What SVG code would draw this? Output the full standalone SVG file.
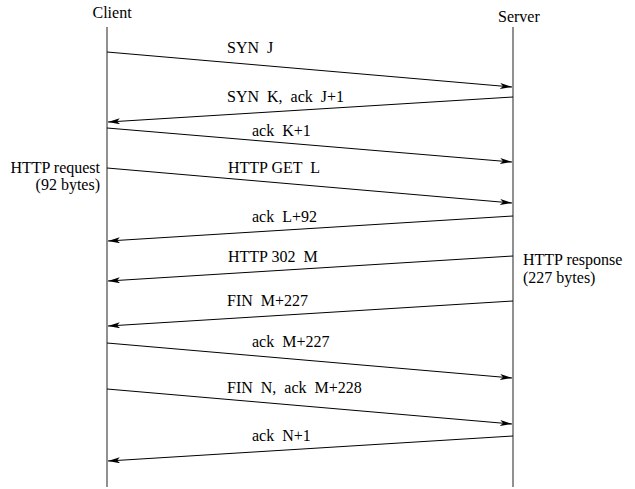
<svg xmlns="http://www.w3.org/2000/svg" width="635" height="489" viewBox="0 0 635 489">
<defs>
<style>
text{font-family:"Liberation Serif","Times New Roman",Times,serif;font-size:16px;fill:#000;white-space:pre}
.life{stroke:#555;stroke-width:1.3;fill:none}
.msg{stroke:#000;stroke-width:1;fill:none;marker-end:url(#ah)}
</style>
<marker id="ah" markerWidth="13" markerHeight="6" refX="12" refY="3" orient="auto" markerUnits="userSpaceOnUse">
<path d="M0,0 L12,3 L0,6 L3,3 z" fill="#000"/>
</marker>
</defs>
<rect width="635" height="489" fill="#fff"/>
<g id="client" font-family="Liberation Serif, serif">
<text x="92.5" y="17.5">Client</text>
<line class="life" x1="107" y1="27" x2="107" y2="487"/>
<text x="100" y="173" text-anchor="end">HTTP request</text>
<text x="100" y="190" text-anchor="end">(92 bytes)</text>
</g>
<g id="server" font-family="Liberation Serif, serif">
<text x="498" y="21.5">Server</text>
<line class="life" x1="513" y1="27" x2="513" y2="487"/>
<text x="523" y="265">HTTP response</text>
<text x="523" y="283">(227 bytes)</text>
</g>
<g id="connectors">
<line class="msg" x1="107" y1="52" x2="512" y2="87"/>
<line class="msg" x1="513" y1="97" x2="108" y2="122"/>
<line class="msg" x1="107" y1="128" x2="512" y2="162"/>
<line class="msg" x1="107" y1="168" x2="512" y2="203"/>
<line class="msg" x1="513" y1="216" x2="108" y2="241"/>
<line class="msg" x1="513" y1="256" x2="108" y2="281"/>
<line class="msg" x1="513" y1="301" x2="108" y2="326"/>
<line class="msg" x1="107" y1="343" x2="512" y2="378"/>
<line class="msg" x1="107" y1="389" x2="512" y2="424"/>
<line class="msg" x1="513" y1="436" x2="108" y2="461"/>
</g>
<g id="labels" font-family="Liberation Serif, serif">
<text x="227" y="53">SYN  J</text>
<text x="227" y="101.5">SYN  K,  ack  J+1</text>
<text x="252" y="135.5">ack  K+1</text>
<text x="228" y="173">HTTP GET  L</text>
<text x="252" y="222">ack  L+92</text>
<text x="228" y="261.5">HTTP 302  M</text>
<text x="227" y="306">FIN  M+227</text>
<text x="252" y="347">ack  M+227</text>
<text x="227" y="392.5">FIN  N,  ack  M+228</text>
<text x="252" y="440.5">ack  N+1</text>
</g>
</svg>
